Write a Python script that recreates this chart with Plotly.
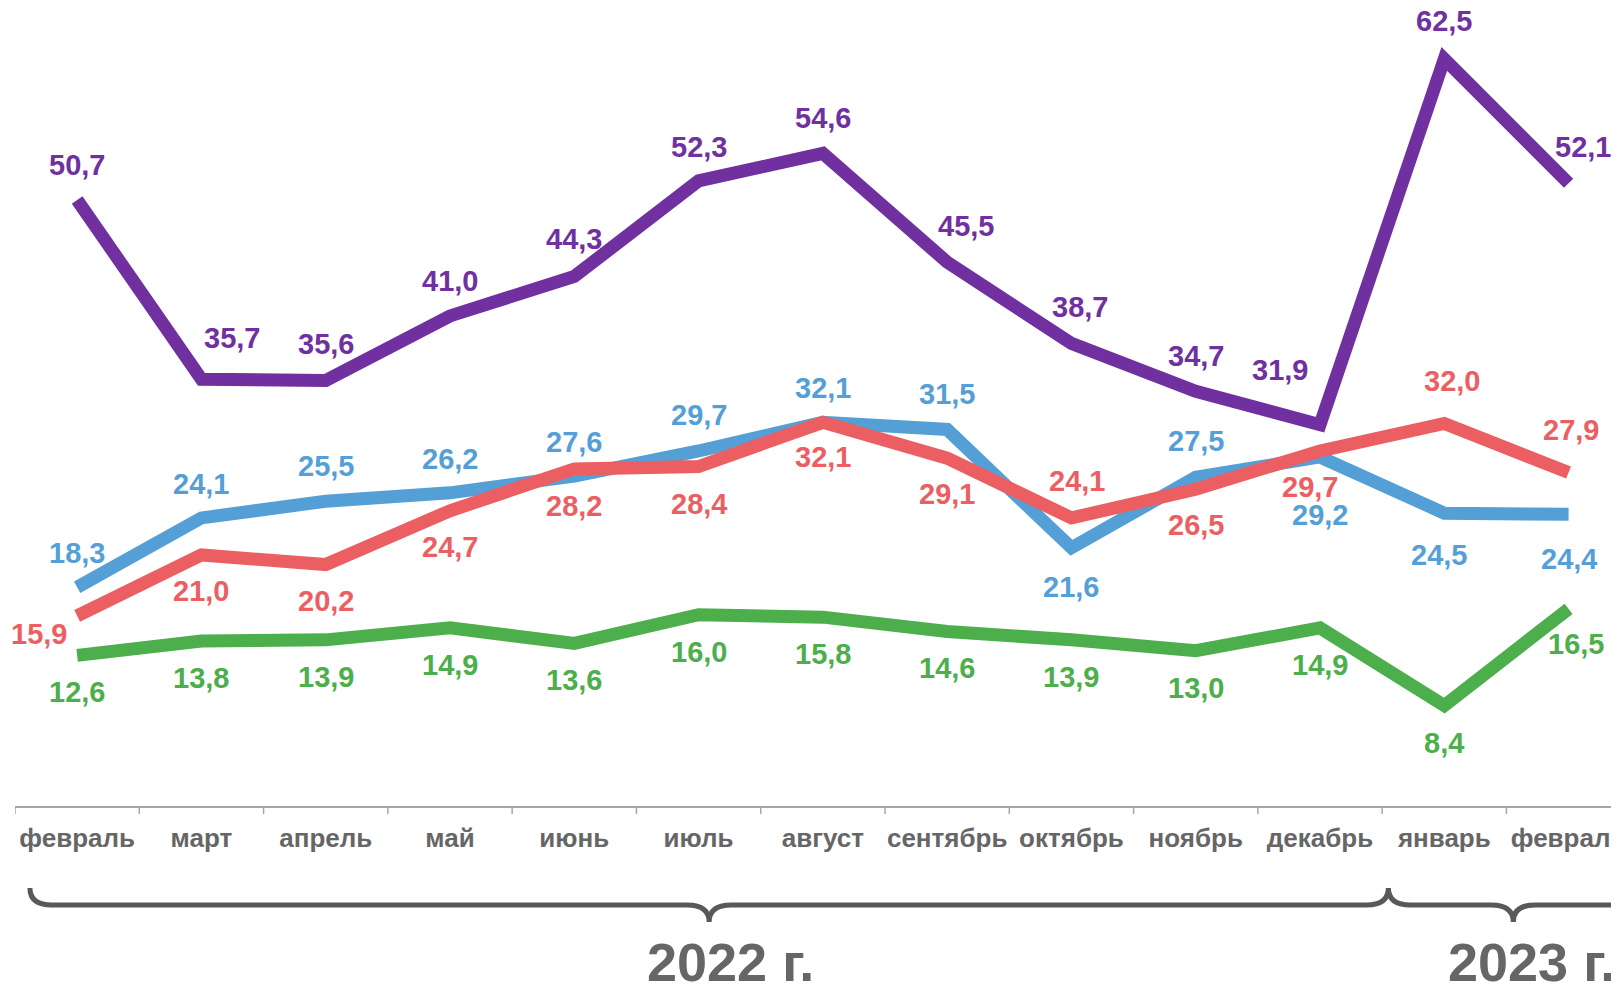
import plotly.graph_objects as go

months = ["февраль", "март", "апрель", "май", "июнь", "июль", "август",
          "сентябрь", "октябрь", "ноябрь", "декабрь", "январь", "февраль"]
x_idx = list(range(len(months)))

purple_vals = [50.7, 35.7, 35.6, 41.0, 44.3, 52.3, 54.6, 45.5, 38.7, 34.7, 31.9, 62.5, 52.1]
blue_vals = [18.3, 24.1, 25.5, 26.2, 27.6, 29.7, 32.1, 31.5, 21.6, 27.5, 29.2, 24.5, 24.4]
red_vals = [15.9, 21.0, 20.2, 24.7, 28.2, 28.4, 32.1, 29.1, 24.1, 26.5, 29.7, 32.0, 27.9]
green_vals = [12.6, 13.8, 13.9, 14.9, 13.6, 16.0, 15.8, 14.6, 13.9, 13.0, 14.9, 8.4, 16.5]

years = ["2022 г.", "2023 г."]

# label offsets in pixels (dx, dy; dy positive = downward)
purple_off = [(0, -35), (31, -41), (0, -36), (0, -35), (0, -37), (0, -34), (0, -35),
              (19, -36), (9, -36), (0, -35), (-40, -55), (0, -38), (14, -36)]
blue_off = [(0, -34), (0, -34), (0, -35), (0, -34), (0, -34), (0, -36), (0, -34),
            (0, -35), (0, 39), (0, -36), (0, 58), (-5, 42), (0, 45)]
red_off = [(-38, 18), (0, 36), (0, 36), (0, 36), (0, 37), (0, 37), (0, 35),
           (0, 36), (6, -37), (0, 36), (-10, 36), (8, -43), (2, -43)]
green_off = [(0, 37)] * 12 + [(7, 35)]

PURPLE = "#7030A0"
BLUE = "#559FD7"
RED = "#EB5F62"
GREEN = "#4DAE4C"
GREY = "#666666"
BRACE = "#595959"
FONT = "Liberation Sans, Arial, sans-serif"

# the page body adds an 8px offset; figure coordinates = page coordinates - 8
OFF = 8
W, H = 1619, 984
ML, MR, MT, MB = 6.5, 0, 0, 186
XMIN, XMAX = -0.5, 12.47
YMIN, YMAX = 0, 66.76

fig = go.Figure()
series = [(blue_vals, BLUE, blue_off), (red_vals, RED, red_off),
          (green_vals, GREEN, green_off), (purple_vals, PURPLE, purple_off)]

for vals, col, _ in series:
    fig.add_trace(go.Scatter(x=x_idx, y=vals, mode="lines",
                             line=dict(color=col, width=13, shape="linear"),
                             hoverinfo="skip", showlegend=False))

annotations = []
for vals, col, offs in series:
    for i, v in enumerate(vals):
        dx, dy = offs[i]
        annotations.append(dict(x=i, y=v, xref="x", yref="y",
                                text=f"{v:.1f}".replace(".", ","),
                                showarrow=False, xshift=dx, yshift=-dy,
                                xanchor="center", yanchor="middle",
                                font=dict(family=FONT, size=29, color=col, weight=700)))

pw = W - ML - MR
ph = H - MT - MB


def px(i):
    return (i - XMIN) / (XMAX - XMIN)


def py(page_y):
    fy = page_y - OFF
    return (ph - (fy - MT)) / ph


def brace(xa, xb, xm, y0=888, y1=905, y2=922, r=22):
    rr = r / pw * (XMAX - XMIN)
    P = lambda i, yy: f"{px(i):.5f},{py(yy):.5f}"
    return (f"M {P(xa, y0)} Q {P(xa, y1)} {P(xa + rr, y1)} "
            f"L {P(xm - rr, y1)} Q {P(xm, y1)} {P(xm, y2)} "
            f"Q {P(xm, y1)} {P(xm + rr, y1)} "
            f"L {P(xb - rr, y1)} Q {P(xb, y1)} {P(xb, y0)}")


brace_spans = [(-0.38, 10.55), (10.55, 12.56)]
shapes = []
for xa, xb in brace_spans:
    path = brace(xa, xb, (xa + xb) / 2)
    shapes.append(dict(type="path", xref="paper", yref="paper", path=path,
                       line=dict(color=BRACE, width=5)))

year_pos = [5.26, 11.7]
for yr, xp in zip(years, year_pos):
    annotations.append(dict(x=px(xp), y=py(962), xref="paper", yref="paper",
                            text=yr, showarrow=False,
                            xanchor="center", yanchor="middle",
                            font=dict(family=FONT, size=54, color=GREY, weight=700)))

fig.update_layout(
    width=W, height=H,
    margin=dict(l=ML, r=MR, t=MT, b=MB, pad=0),
    plot_bgcolor="white", paper_bgcolor="white",
    xaxis=dict(range=[XMIN, XMAX], tickmode="array", tickvals=x_idx,
               ticktext=months, showgrid=False, zeroline=False,
               showline=True, linecolor="#A6A6A6", linewidth=1.5,
               ticks="", ticklabelstandoff=8,
               tickfont=dict(family=FONT, size=26, color=GREY, weight=700),
               fixedrange=True),
    yaxis=dict(range=[YMIN, YMAX], visible=False, fixedrange=True),
    annotations=annotations,
    shapes=shapes,
)

# tick marks at boundaries between months
for b in [i - 0.5 for i in range(len(months) + 1)]:
    fig.add_shape(type="line", xref="x", yref="paper", x0=b, x1=b,
                  y0=0, y1=py(814), line=dict(color="#A6A6A6", width=1.5))

fig.write_html("out.html")
